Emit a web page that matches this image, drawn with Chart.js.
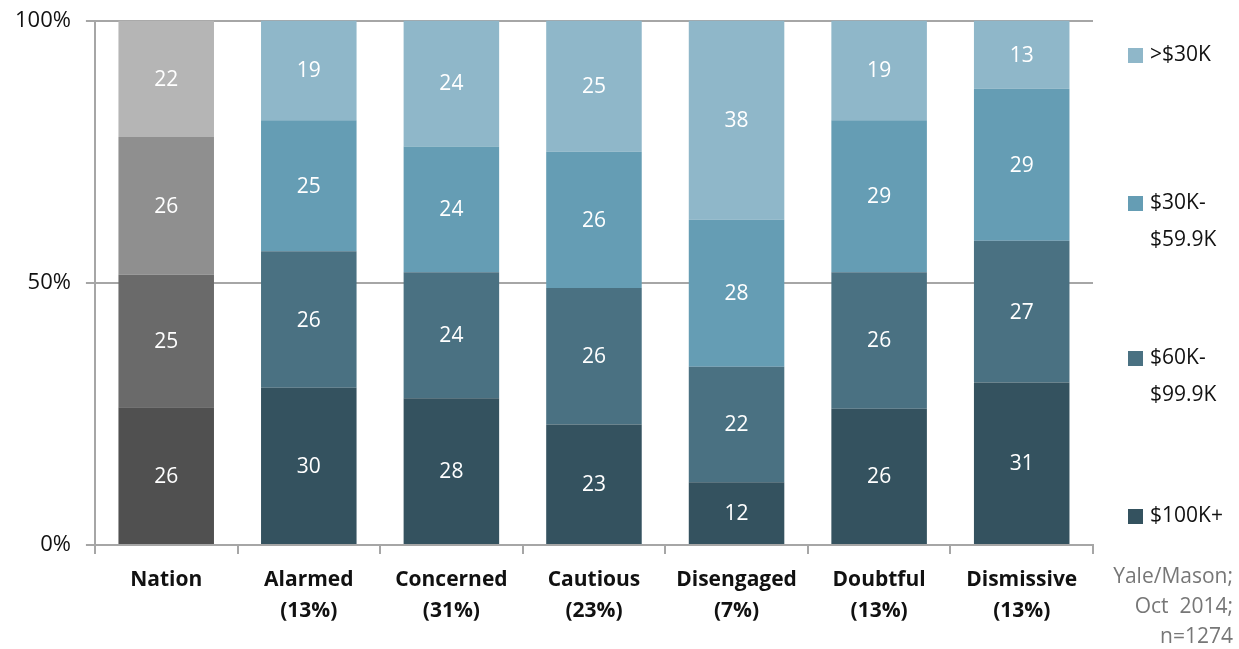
<!DOCTYPE html>
<html>
<head>
<meta charset="utf-8">
<script src="https://cdn.jsdelivr.net/npm/chart.js@4"></script>
<style>
  html, body { margin: 0; padding: 0; background: #fff; }
  #wrap { width: 1239px; height: 649px; position: relative; }
</style>
</head>
<body>
<div id="wrap"><canvas id="chart"></canvas></div>
<script>
// categories and values (percent, as printed on the bars)
const categories = [['Nation'], ['Alarmed', '(13%)'], ['Concerned', '(31%)'], ['Cautious', '(23%)'],
    ['Disengaged', '(7%)'], ['Doubtful', '(13%)'], ['Dismissive', '(13%)']];
const seriesNames = ['$100K+', '$60K-\n$99.9K', '$30K-\n$59.9K', '>$30K'];
const inc100kPlus = [26, 30, 28, 23, 12, 26, 31];
const inc60to99 = [25, 26, 24, 26, 22, 26, 27];
const inc30to59 = [26, 25, 24, 26, 28, 29, 29];
const incUnder30 = [22, 19, 24, 25, 38, 19, 13];
const yTicks = [0, 50, 100];
const sourceLines = ['Yale/Mason;', 'Oct  2014;', 'n=1274'];

const blueColors = ['#34525f', '#4a7182', '#659db4', '#8fb7c9'];
const grayColors = ['#505050', '#6a6a6a', '#8f8f8f', '#b5b5b5'];
const FONT = "'Open Sans', sans-serif";

const raw = [inc100kPlus, inc60to99, inc30to59, incUnder30];
const totals = categories.map((c, i) => raw.reduce((s, arr) => s + arr[i], 0));

const datasets = raw.map((arr, k) => ({
    label: seriesNames[k],
    data: arr.map((v, i) => v / totals[i] * 100),
    raw: arr,
    backgroundColor: categories.map((c, i) => i === 0 ? grayColors[k] : blueColors[k]),
    borderWidth: 0,
    barPercentage: 0.67,
    categoryPercentage: 1.0
}));

// values written in the middle of each segment
const valueLabels = {
    id: 'valueLabels',
    afterDatasetsDraw(chart) {
        const ctx = chart.ctx;
        ctx.save();
        ctx.fillStyle = '#ffffff';
        ctx.font = '21px ' + FONT;
        ctx.textAlign = 'center';
        ctx.textBaseline = 'middle';
        chart.data.datasets.forEach((ds, k) => {
            chart.getDatasetMeta(k).data.forEach((bar, i) => {
                const mid = (bar.y + bar.base) / 2;
                ctx.fillText(String(ds.raw[i]), bar.x, mid + 1);
            });
        });
        ctx.restore();
    }
};

// legend on the right and the source note
const sideNotes = {
    id: 'sideNotes',
    afterDraw(chart) {
        const ctx = chart.ctx;
        const area = chart.chartArea;
        ctx.save();
        ctx.font = '21px ' + FONT;
        ctx.textBaseline = 'middle';
        ctx.textAlign = 'left';
        const legendY = [516, 358, 203, 55];
        const x0 = area.right + 35;
        chart.data.datasets.forEach((ds, k) => {
            const y = legendY[k];
            ctx.fillStyle = blueColors[k];
            ctx.fillRect(x0, y - 7, 15, 15);
            ctx.fillStyle = '#111';
            ds.label.split('\n').forEach((line, j) => {
                ctx.fillText(line, x0 + 22, y + j * 37);
            });
        });
        ctx.fillStyle = '#777';
        ctx.textAlign = 'right';
        sourceLines.forEach((line, j) => {
            ctx.fillText(line, chart.width - 6, 577 + j * 30);
        });
        ctx.restore();
    }
};

new Chart(document.getElementById('chart'), {
    type: 'bar',
    data: { labels: categories, datasets: datasets },
    options: {
        responsive: true,
        maintainAspectRatio: false,
        animation: false,
        layout: { padding: { top: 17, right: 146, left: 0, bottom: 12 } },
        plugins: {
            legend: { display: false },
            tooltip: { enabled: false }
        },
        scales: {
            x: {
                stacked: true,
                grid: { display: true, offset: true, drawOnChartArea: false, color: '#a6a6a6', lineWidth: 2, tickLength: 9 },
                border: { display: true, color: '#a6a6a6', width: 2 },
                ticks: { color: '#111', font: { family: FONT, size: 21, weight: 'bold', lineHeight: 1.45 }, padding: 11, maxRotation: 0 }
            },
            y: {
                stacked: true,
                min: 0,
                max: 100,
                afterBuildTicks(axis) { axis.ticks = yTicks.map(v => ({ value: v })); },
                grid: { color: '#a6a6a6', lineWidth: 2, tickLength: 9 },
                border: { display: true, color: '#a6a6a6', width: 2 },
                ticks: { color: '#111', font: { family: FONT, size: 22, lineHeight: 0.5 }, padding: 15, callback: v => v + '%' }
            }
        }
    },
    plugins: [valueLabels, sideNotes]
});
</script>
</body>
</html>
